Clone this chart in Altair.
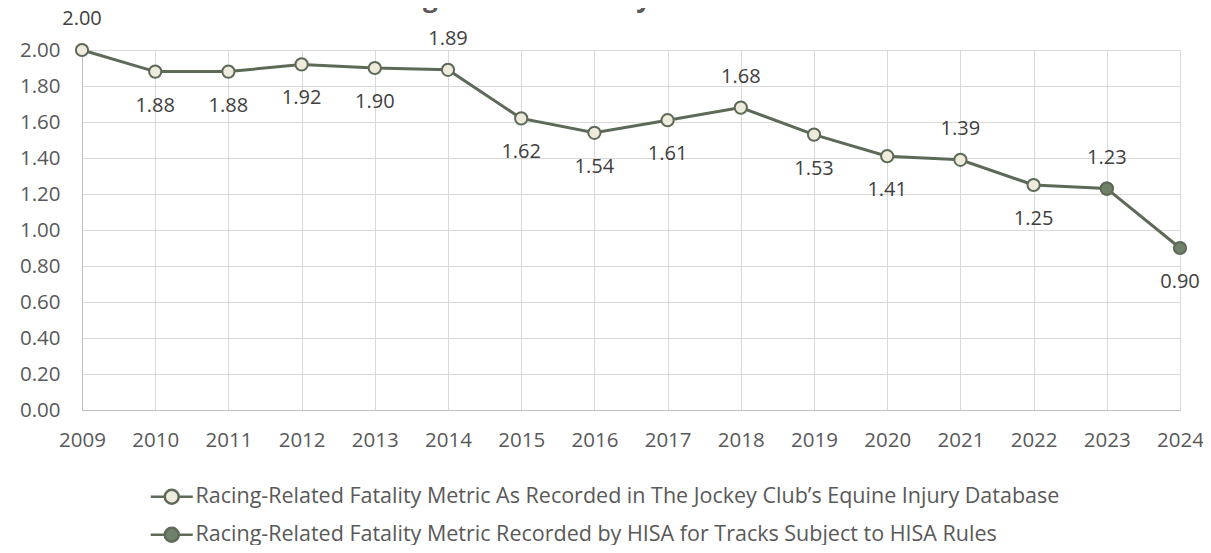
import altair as alt
import pandas as pd

years = list(range(2009, 2025))
jc_years = list(range(2009, 2024))
jc_values = [2.00, 1.88, 1.88, 1.92, 1.90, 1.89, 1.62, 1.54, 1.61, 1.68, 1.53, 1.41, 1.39, 1.25, 1.23]
hisa_years = [2023, 2024]
hisa_values = [1.23, 0.90]
label_years = list(range(2009, 2025))
label_values = [2.00, 1.88, 1.88, 1.92, 1.90, 1.89, 1.62, 1.54, 1.61, 1.68, 1.53, 1.41, 1.39, 1.25, 1.23, 0.90]
label_pos = ["above", "below", "below", "below", "below", "above", "below", "below",
             "below", "above", "below", "below", "above", "below", "above", "below"]
series_names = [
    "Racing-Related Fatality Metric As Recorded in The Jockey Club\u2019s Equine Injury Database",
    "Racing-Related Fatality Metric Recorded by HISA for Tracks Subject to HISA Rules",
]
y_ticks = [0.0, 0.2, 0.4, 0.6, 0.8, 1.0, 1.2, 1.4, 1.6, 1.8, 2.0]
title_text = "Racing-Related Fatality Rate Since 2009"

FONT = "Open Sans"
LINE = "#5d6a57"
CREAM = "#eeebdc"
GREEN = "#6e8269"
GRID = "#d9d9d9"

rows = []
for yr, v in zip(jc_years, jc_values):
    rows.append({"series": series_names[0], "year": yr, "value": v})
for yr, v in zip(hisa_years, hisa_values):
    rows.append({"series": series_names[1], "year": yr, "value": v})
df = pd.DataFrame(rows)

labels = pd.DataFrame({"year": label_years, "value": label_values, "pos": label_pos,
                       "txt": [f"{v:.2f}" for v in label_values]})

x_enc = alt.X(
    "year:Q",
    scale=alt.Scale(domain=[2009, 2024], nice=False, zero=False),
    axis=alt.Axis(values=years, format="d", title=None, grid=True, gridColor=GRID,
                  ticks=False, domainColor="#bfbfbf", labelFont=FONT, labelFontSize=20.5,
                  labelColor="#595959", labelPadding=20, labelFlush=False, labelOverlap=False),
)
y_enc = alt.Y(
    "value:Q",
    scale=alt.Scale(domain=[0, 2], nice=False),
    axis=alt.Axis(values=y_ticks, format=".2f", title=None, grid=True, gridColor=GRID,
                  ticks=False, domainColor="#bfbfbf", labelFont=FONT, labelFontSize=20.5,
                  labelColor="#595959", labelPadding=22, labelOverlap=False, tickCount=11),
)

lines = alt.Chart(df).mark_line(strokeWidth=3, color=LINE).encode(
    x=x_enc, y=y_enc, detail="series:N", order="year:Q"
)

points = alt.Chart(df).mark_circle(size=150, stroke=LINE, strokeWidth=2, opacity=1).encode(
    x=x_enc,
    y=y_enc,
    fill=alt.Fill(
        "series:N",
        scale=alt.Scale(domain=series_names, range=[CREAM, GREEN]),
        sort=series_names,
        legend=alt.Legend(
            title=None, orient="none", legendX=79, legendY=436, direction="vertical",
            symbolType="M-3,0H-1M1,0H3M1,0A1,1 0 1 1 -1,0A1,1 0 1 1 1,0Z",
            symbolSize=196, symbolStrokeColor=LINE, symbolStrokeWidth=2.5,
            symbolOpacity=1, labelFont=FONT, labelFontSize=21.5, labelColor="#595959",
            labelLimit=0, labelOffset=13, rowPadding=13, padding=0,
        ),
    ),
)

above = alt.Chart(labels).transform_filter(alt.datum.pos == "above").mark_text(
    font=FONT, fontSize=20, color="#404040", dy=-31, baseline="middle"
).encode(x=x_enc, y=y_enc, text="txt:N")

below = alt.Chart(labels).transform_filter(alt.datum.pos == "below").mark_text(
    font=FONT, fontSize=20, color="#404040", dy=34, baseline="middle"
).encode(x=x_enc, y=y_enc, text="txt:N")

chart = alt.layer(lines, points, above, below).properties(
    width=1098, height=360,
    title=alt.TitleParams(title_text, font=FONT, fontSize=26, fontWeight="bold",
                          color="#595959", anchor="middle", dx=-26, offset=-24,
                          baseline="alphabetic"),
    autosize=alt.AutoSizeParams(type="none"),
    padding={"left": 74, "top": 42, "right": 23, "bottom": 135},
).configure_view(stroke=None)

chart.save("out.html", embed_options={"renderer": "svg", "actions": False})
